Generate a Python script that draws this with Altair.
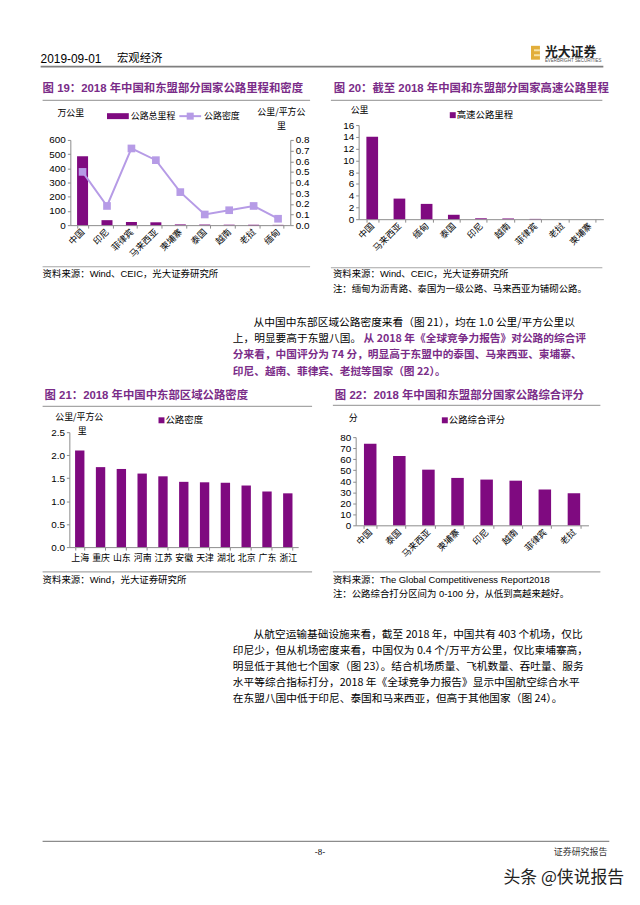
import altair as alt
import pandas as pd

PURPLE = "#7F0A80"
TITLE_PURPLE = "#7A2C88"
LAVENDER = "#B69BE6"
RULE = "#A6A6A6"
AX = "#8C8C8C"
CJK = "Noto Sans CJK SC"
LAT = "Liberation Sans, Noto Sans CJK SC"

# ---------------- data ----------------
# Figure 19
c19_countries = ["中国", "印尼", "菲律宾", "马来西亚", "柬埔寨", "泰国", "越南", "老挝", "缅甸"]
c19_mileage = [485, 35, 22, 20, 5, 4, 3, 2, 2]            # 万公里
c19_density = [0.50, 0.18, 0.72, 0.61, 0.31, 0.10, 0.14, 0.18, 0.06]  # 公里/平方公里
c19_ticks_left = [0, 100, 200, 300, 400, 500, 600]
c19_ticks_right = [0.0, 0.1, 0.2, 0.3, 0.4, 0.5, 0.6, 0.7, 0.8]

# Figure 20
c20_countries = ["中国", "马来西亚", "缅甸", "泰国", "印尼", "越南", "菲律宾", "老挝", "柬埔寨"]
c20_values = [14.0, 3.5, 2.6, 0.75, 0.15, 0.12, 0.05, 0.0, 0.0]
c20_ticks = [0, 2, 4, 6, 8, 10, 12, 14, 16]

# Figure 21
c21_regions = ["上海", "重庆", "山东", "河南", "江苏", "安徽", "天津", "湖北", "北京", "广东", "浙江"]
c21_values = [2.10, 1.74, 1.70, 1.60, 1.54, 1.42, 1.41, 1.40, 1.34, 1.21, 1.17]
c21_ticks = [0.0, 0.5, 1.0, 1.5, 2.0, 2.5]

# Figure 22
c22_countries = ["中国", "泰国", "马来西亚", "柬埔寨", "印尼", "越南", "菲律宾", "老挝"]
c22_values = [74, 63, 50.5, 43, 41.5, 40.5, 32.5, 29]
c22_ticks = [0, 10, 20, 30, 40, 50, 60, 70, 80]

para1_line1 = "从中国中东部区域公路密度来看（图 21），均在 1.0 公里/平方公里以"
para1_line2a = "上，明显要高于东盟八国。"
para1_line2b = "从 2018 年《全球竞争力报告》对公路的综合评"
para1_line3 = "分来看，中国评分为 74 分，明显高于东盟中的泰国、马来西亚、柬埔寨、"
para1_line4 = "印尼、越南、菲律宾、老挝等国家（图 22）。"

para2_lines = [
    "从航空运输基础设施来看，截至 2018 年，中国共有 403 个机场，仅比",
    "印尼少，但从机场密度来看，中国仅为 0.4 个/万平方公里，仅比柬埔寨高，",
    "明显低于其他七个国家（图 23）。结合机场质量、飞机数量、吞吐量、服务",
    "水平等综合指标打分，2018 年《全球竞争力报告》显示中国航空综合水平",
    "在东盟八国中低于印尼、泰国和马来西亚，但高于其他国家（图 24）。",
]

ONE = alt.Data(values=[{"k": 1}])


def txt(s, x, y, size=10.8, color="#000", bold=False, align="left", font=CJK):
    return alt.Chart(ONE).mark_text(
        text=s, align=align, baseline="middle", fontSize=size, font=font,
        color=color, fontWeight="bold" if bold else "normal"
    ).encode(x=alt.value(x), y=alt.value(y))


def hline(x1, x2, y, color=RULE, w=1.2):
    return alt.Chart(ONE).mark_rule(color=color, strokeWidth=w).encode(
        x=alt.value(x1), x2=alt.value(x2), y=alt.value(y))


def rect(x1, x2, y1, y2, color):
    return alt.Chart(ONE).mark_rect(color=color).encode(
        x=alt.value(x1), x2=alt.value(x2), y=alt.value(y1), y2=alt.value(y2))


def legend_item(x, y, label):
    # small filled square followed by the series name
    return [rect(x, x + 6, y - 3, y + 3, PURPLE), txt(label, x + 7, y, 9.5)]


def yaxis(orient, offset, values, fmt=None):
    kw = dict(orient=orient, offset=offset, values=values, title=None, grid=False,
              labelFont=LAT, labelFontSize=10, labelColor="#000", domainColor=AX,
              tickColor=AX, tickSize=3, labelPadding=2)
    if fmt:
        kw["format"] = fmt
    return alt.Axis(**kw)


def xaxis(offset, rotated=True, size=9):
    kw = dict(orient="bottom", offset=offset, title=None, grid=False, labelFont=CJK,
              labelFontSize=size, labelColor="#000", domainColor=AX, tickColor=AX,
              tickSize=3, tickBand="extent", labelOverlap=False)
    if rotated:
        kw.update(labelAngle=315, labelAlign="right", labelBaseline="middle", labelPadding=2)
    else:
        kw.update(labelAngle=0, labelAlign="center", labelBaseline="top", labelPadding=4)
    return alt.Axis(**kw)


# ---------------- Panel A : page header ----------------
panelA = alt.layer(
    txt("2019-09-01", 38, 55, 12, font=LAT),
    txt("宏观经济", 115, 55, 11.5),
    hline(38, 606, 63, "#7F7F7F", 2),
    rect(533, 542, 42, 56, "#E2AE3A"),
    rect(536, 542, 45.5, 47.5, "#F6E2A8"),
    rect(536, 542, 50.5, 52.5, "#F6E2A8"),
    txt("光大证券", 547, 48, 13, "#222", True),
    txt("EVERBRIGHT SECURITIES", 547, 57.5, 4.5, "#555", font=LAT),
).properties(width=640, height=76)

# ---------------- Panel B : figures 19 & 20 ----------------
HB = 224
df19 = pd.DataFrame({"country": c19_countries, "mileage": c19_mileage, "density": c19_density})
x19 = alt.X("country:N", sort=c19_countries, title=None,
            scale=alt.Scale(range=[68, 290], paddingInner=0.55, paddingOuter=0.275),
            axis=xaxis(-(HB - 147)))
bars19 = alt.Chart(df19).mark_bar(color=PURPLE).encode(
    x=x19,
    y=alt.Y("mileage:Q", title=None,
            scale=alt.Scale(domain=[0, 600], range=[147, 61], nice=False),
            axis=yaxis("left", -68, c19_ticks_left)))
y19r = alt.Y("density:Q", title=None,
             scale=alt.Scale(domain=[0, 0.8], range=[147, 61], nice=False),
             axis=yaxis("right", -30, c19_ticks_right, ".1f"))
line19 = alt.Chart(df19).mark_line(color=LAVENDER, strokeWidth=2).encode(x=x19, y=y19r)
pts19 = alt.Chart(df19).mark_point(shape="square", filled=True, color=LAVENDER, size=60, opacity=1).encode(x=x19, y=y19r)
chart19 = alt.layer(bars19, alt.layer(line19, pts19)).resolve_scale(y="independent")

panelB1 = alt.layer(
    chart19,
    txt("图 19：2018 年中国和东盟部分国家公路里程和密度", 40, 10, 11.5, TITLE_PURPLE, True, font=LAT),
    hline(40, 310, 21),
    txt("万公里", 55, 34, 9),
    rect(105, 127, 34, 40, PURPLE),
    txt("公路总里程", 129, 37, 9),
    hline(178, 200, 37, LAVENDER, 2),
    alt.Chart(ONE).mark_point(shape="square", filled=True, color=LAVENDER, size=50, opacity=1).encode(
        x=alt.value(189), y=alt.value(37)),
    txt("公路密度", 203, 37, 9),
    txt("公里/平方公", 281, 33, 9, align="center"),
    txt("里", 281, 46.5, 9, align="center"),
    hline(40, 310, 189),
    txt("资料来源：Wind、CEIC，光大证券研究所", 40, 196, 9.5, font=LAT),
).properties(width=320, height=HB)

df20 = pd.DataFrame({"country": c20_countries, "v": c20_values})
bars20 = alt.Chart(df20).mark_bar(color=PURPLE).encode(
    x=alt.X("country:N", sort=c20_countries, title=None,
            scale=alt.Scale(range=[36, 283], paddingInner=0.57, paddingOuter=0.285),
            axis=xaxis(-(HB - 141))),
    y=alt.Y("v:Q", title=None, scale=alt.Scale(domain=[0, 16], range=[141, 46], nice=False),
            axis=yaxis("left", -36, c20_ticks)))

panelB2 = alt.layer(
    bars20,
    txt("图 20：截至 2018 年中国和东盟部分国家高速公路里程", 11, 10, 11.5, TITLE_PURPLE, True, font=LAT),
    hline(8, 282, 21),
    txt("公里", 28, 31, 9),
    *legend_item(128, 36, "高速公路里程"),
    hline(8, 282, 190),
    txt("资料来源：Wind、CEIC，光大证券研究所", 10, 196, 9.5, font=LAT),
    txt("注：缅甸为沥青路、泰国为一级公路、马来西亚为铺砌公路。", 10, 211, 9.5),
).properties(width=320, height=HB)

rowB = alt.hconcat(panelB1, panelB2, spacing=0)

# ---------------- Panel C : paragraph 1 ----------------
panelC = alt.layer(
    txt(para1_line1, 253, 22),
    txt(para1_line2a, 232, 38),
    txt(para1_line2b, 364, 38, color=TITLE_PURPLE, bold=True),
    txt(para1_line3, 232, 54, color=TITLE_PURPLE, bold=True),
    txt(para1_line4, 232, 71, color=TITLE_PURPLE, bold=True),
).properties(width=640, height=84)

# ---------------- Panel D : figures 21 & 22 ----------------
HD = 228
df21 = pd.DataFrame({"region": c21_regions, "v": c21_values})
bars21 = alt.Chart(df21).mark_bar(color=PURPLE).encode(
    x=alt.X("region:N", sort=c21_regions, title=None,
            scale=alt.Scale(range=[67, 298], paddingInner=0.55, paddingOuter=0.275),
            axis=xaxis(-(HD - 164), rotated=False, size=9)),
    y=alt.Y("v:Q", title=None, scale=alt.Scale(domain=[0, 2.5], range=[164, 48], nice=False),
            axis=yaxis("left", -67, c21_ticks, ".1f")))

panelD1 = alt.layer(
    bars21,
    txt("图 21：2018 年中国中东部区域公路密度", 42, 11, 11.5, TITLE_PURPLE, True, font=LAT),
    hline(40, 312, 22),
    txt("公里/平方公", 77, 33, 9, align="center"),
    txt("里", 80, 47, 9, align="center"),
    *legend_item(157, 36, "公路密度"),
    hline(40, 312, 189),
    txt("资料来源：Wind，光大证券研究所", 40, 197, 9.5, font=LAT),
).properties(width=320, height=HD)

df22 = pd.DataFrame({"country": c22_countries, "v": c22_values})
bars22 = alt.Chart(df22).mark_bar(color=PURPLE).encode(
    x=alt.X("country:N", sort=c22_countries, title=None,
            scale=alt.Scale(range=[33, 268], paddingInner=0.57, paddingOuter=0.285),
            axis=xaxis(-(HD - 142))),
    y=alt.Y("v:Q", title=None, scale=alt.Scale(domain=[0, 80], range=[142, 53], nice=False),
            axis=yaxis("left", -33, c22_ticks)))

panelD2 = alt.layer(
    bars22,
    txt("图 22：2018 年中国和东盟部分国家公路综合评分", 12, 11, 11.5, TITLE_PURPLE, True, font=LAT),
    hline(10, 280, 21),
    txt("分", 26, 34, 9),
    *legend_item(120, 36, "公路综合评分"),
    hline(10, 280, 189),
    txt("资料来源：The Global Competitiveness Report2018", 10, 197, 9.5, font=LAT),
    txt("注：公路综合打分区间为 0-100 分，从低到高越来越好。", 10, 211, 9.5, font=LAT),
).properties(width=320, height=HD)

rowD = alt.hconcat(panelD1, panelD2, spacing=0)

# ---------------- Panel E : paragraph 2 + footer ----------------
para2_layers = [txt(para2_lines[0], 253, 25)] + [
    txt(s, 232, 25 + 16.2 * (i + 1)) for i, s in enumerate(para2_lines[1:])
]
panelE = alt.layer(
    *para2_layers,
    hline(40, 612, 233, "#8C8C8C", 1.2),
    txt("-8-", 320, 244, 9, align="center", font="Liberation Serif"),
    txt("证券研究报告", 610, 244, 9, "#333", align="right"),
    txt("头条 @侠说报告", 627, 270, 17, "#222", align="right"),
).properties(width=640, height=293)

chart = alt.vconcat(panelA, rowB, panelC, rowD, panelE, spacing=0).properties(
    padding=0, background="white"
).configure_view(strokeWidth=0).configure_concat(spacing=0)

chart.save("out.html", embed_options={"renderer": "svg", "actions": False})
